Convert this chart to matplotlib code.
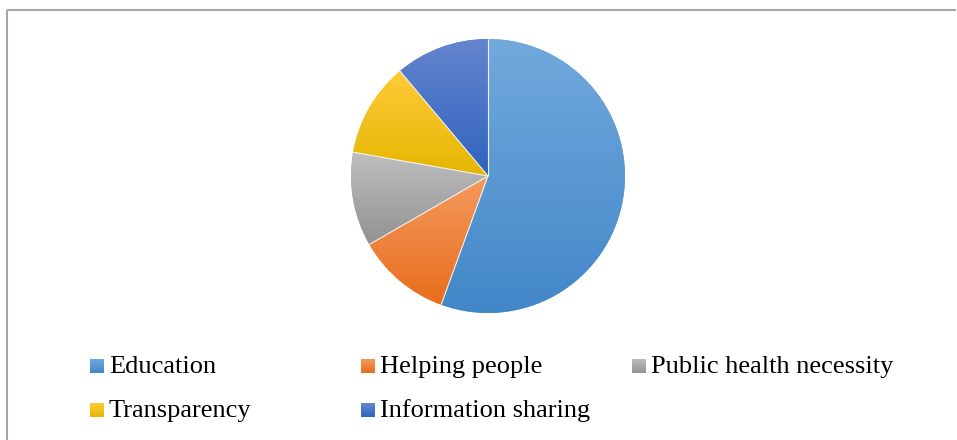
import numpy as np
import matplotlib
matplotlib.use("Agg")
import matplotlib.pyplot as plt
from matplotlib.colors import to_rgb, LinearSegmentedColormap

# Survey reasons and their shares
categories = ["Education", "Helping people", "Public health necessity",
              "Transparency", "Information sharing"]
shares = [5, 1, 1, 1, 1]

# Gradient colour stops (top -> bottom) for each slice
top_colors = ["#72A9DD", "#F49A5E", "#BEBEBE", "#FFCA3A", "#6585CE"]
bottom_colors = ["#4287C8", "#E86D1C", "#929292", "#E5B600", "#2F63BF"]

W, H = 957, 440
fig = plt.figure(figsize=(W / 100, H / 100), dpi=100)

# Overlay axes in pixel coordinates for the frame and legend
ov = fig.add_axes([0, 0, 1, 1])
ov.axis("off")
ov.plot([6.5, 956], [10.5, 10.5], color="#A6A6A6", lw=1.5, solid_capstyle="butt")
ov.plot([6.5, 6.5], [10.5, 440], color="#A6A6A6", lw=1.5, solid_capstyle="butt")

# Pie axes
cx, cy, r = 488, 176, 137
ax = fig.add_axes([(cx - r) / W, (H - cy - r) / H, 2 * r / W, 2 * r / H])
ax.axis("off")

wedges, _ = ax.pie(shares, startangle=90, counterclock=False, radius=1,
                   colors=top_colors, frame=False,
                   wedgeprops=dict(edgecolor="none", linewidth=0))

grad = np.linspace(0, 1, 256).reshape(-1, 1)
for w, c0, c1 in zip(wedges, top_colors, bottom_colors):
    cmap = LinearSegmentedColormap.from_list("g", [to_rgb(c0), to_rgb(c1)])
    t = np.linspace(np.deg2rad(w.theta1), np.deg2rad(w.theta2), 100)
    ys = np.concatenate([np.sin(t), [0]])
    xs = np.concatenate([np.cos(t), [0]])
    im = ax.imshow(grad, cmap=cmap, aspect="auto", origin="upper",
                   extent=[xs.min(), xs.max(), ys.min(), ys.max()],
                   zorder=w.get_zorder() + 0.1)
    im.set_clip_path(w)
    # thin light separator along the slice's starting radius
    a = np.deg2rad(w.theta1)
    ax.plot([0, np.cos(a)], [0, np.sin(a)], color="#F2F2F2", lw=0.8,
            zorder=w.get_zorder() + 0.2, solid_capstyle="butt")
ax.set_xlim(-1, 1)
ax.set_ylim(-1, 1)
ax.set_aspect("equal")

# Legend: three columns, two rows
col_x = [90, 361, 632]
row_y = [366, 410]
sq = 14
for i, (name, c0, c1) in enumerate(zip(categories, top_colors, bottom_colors)):
    x = col_x[i % 3]
    y = row_y[i // 3]
    cmap = LinearSegmentedColormap.from_list("g", [to_rgb(c0), to_rgb(c1)])
    ov.imshow(grad, cmap=cmap, aspect="auto", origin="upper",
              extent=[x, x + sq, y + sq / 2, y - sq / 2])
    ov.text(x + sq + 5, y + 7, name, fontsize=19, family="Liberation Serif",
            va="baseline", ha="left", color="black")
ov.set_xlim(0, W)
ov.set_ylim(H, 0)

fig.savefig("out.png", dpi=100)
